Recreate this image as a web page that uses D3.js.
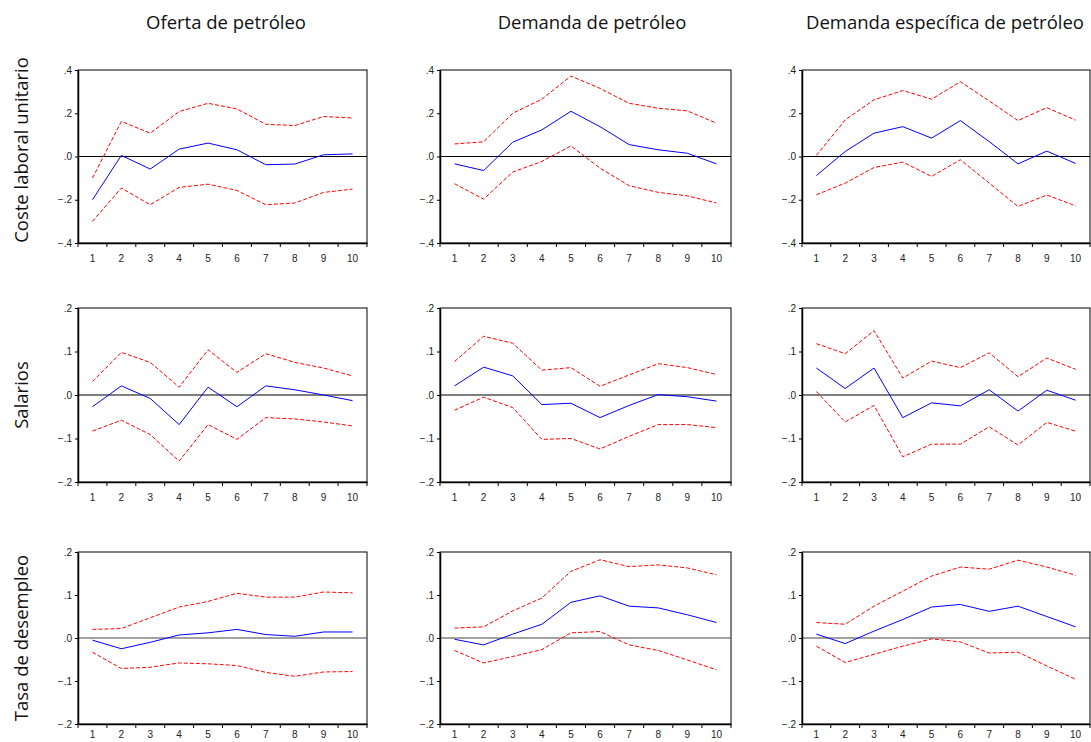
<!DOCTYPE html>
<html>
<head>
<meta charset="utf-8">
<script src="https://cdn.jsdelivr.net/npm/d3@7"></script>
<style>
  body { margin: 0; background: #fff; }
  .tick text { font-family: Arial, "Liberation Sans", sans-serif; font-size: 10px; fill: #222; }
  .title { font-family: "Open Sans", sans-serif; font-size: 18.5px; fill: #111; }
</style>
</head>
<body>
<svg width="1091" height="742"></svg>
<script>
// Column (shock) and row (response) labels
const shocks = ['Oferta de petróleo', 'Demanda de petróleo', 'Demanda específica de petróleo'];
const responses = ['Coste laboral unitario', 'Salarios', 'Tasa de desempleo'];
const periods = [1, 2, 3, 4, 5, 6, 7, 8, 9, 10];

// y-axis ticks for each row
const rowTicks = [
    [-0.4, -0.2, 0, 0.2, 0.4],
    [-0.2, -0.1, 0, 0.1, 0.2],
    [-0.2, -0.1, 0, 0.1, 0.2],
];

// Row 1: Coste laboral unitario
const costeOferta = [-0.200, 0.005, -0.058, 0.034, 0.062, 0.031, -0.038, -0.035, 0.008, 0.012];
const costeOfertaHi = [-0.100, 0.162, 0.108, 0.208, 0.246, 0.220, 0.149, 0.143, 0.185, 0.178];
const costeOfertaLo = [-0.300, -0.146, -0.223, -0.143, -0.128, -0.157, -0.223, -0.215, -0.166, -0.151];

const costeDemanda = [-0.034, -0.065, 0.066, 0.123, 0.209, 0.138, 0.055, 0.031, 0.015, -0.034];
const costeDemandaHi = [0.058, 0.068, 0.200, 0.265, 0.372, 0.315, 0.246, 0.223, 0.211, 0.154];
const costeDemandaLo = [-0.126, -0.197, -0.072, -0.023, 0.049, -0.054, -0.135, -0.166, -0.182, -0.215];

const costeEspec = [-0.088, 0.023, 0.108, 0.138, 0.085, 0.166, 0.069, -0.034, 0.025, -0.032];
const costeEspecHi = [0.005, 0.169, 0.262, 0.305, 0.265, 0.346, 0.257, 0.166, 0.226, 0.168];
const costeEspecLo = [-0.177, -0.123, -0.051, -0.026, -0.092, -0.015, -0.123, -0.231, -0.178, -0.228];

// Row 2: Salarios
const salOferta = [-0.027, 0.021, -0.008, -0.068, 0.018, -0.027, 0.021, 0.012, 0.000, -0.013];
const salOfertaHi = [0.031, 0.098, 0.075, 0.018, 0.104, 0.052, 0.095, 0.075, 0.062, 0.044];
const salOfertaLo = [-0.083, -0.058, -0.091, -0.152, -0.068, -0.102, -0.052, -0.055, -0.062, -0.071];

const salDemanda = [0.021, 0.064, 0.044, -0.022, -0.019, -0.052, -0.024, 0.001, -0.004, -0.014];
const salDemandaHi = [0.077, 0.135, 0.119, 0.057, 0.063, 0.020, 0.046, 0.072, 0.063, 0.047];
const salDemandaLo = [-0.035, -0.005, -0.029, -0.102, -0.100, -0.124, -0.095, -0.068, -0.068, -0.075];

const salEspec = [0.062, 0.015, 0.062, -0.052, -0.018, -0.025, 0.012, -0.037, 0.011, -0.012];
const salEspecHi = [0.118, 0.095, 0.148, 0.039, 0.078, 0.063, 0.097, 0.042, 0.085, 0.059];
const salEspecLo = [0.008, -0.062, -0.024, -0.142, -0.113, -0.113, -0.073, -0.115, -0.063, -0.083];

// Row 3: Tasa de desempleo
const desOferta = [-0.005, -0.025, -0.010, 0.007, 0.012, 0.020, 0.008, 0.004, 0.014, 0.014];
const desOfertaHi = [0.020, 0.022, 0.047, 0.072, 0.085, 0.104, 0.095, 0.095, 0.107, 0.105];
const desOfertaLo = [-0.033, -0.071, -0.068, -0.058, -0.060, -0.064, -0.080, -0.089, -0.079, -0.078];

const desDemanda = [-0.003, -0.016, 0.009, 0.032, 0.083, 0.098, 0.074, 0.070, 0.054, 0.036];
const desDemandaHi = [0.023, 0.026, 0.063, 0.093, 0.155, 0.182, 0.166, 0.170, 0.163, 0.147];
const desDemandaLo = [-0.029, -0.058, -0.043, -0.027, 0.012, 0.015, -0.016, -0.029, -0.051, -0.074];

const desEspec = [0.009, -0.013, 0.016, 0.043, 0.072, 0.078, 0.062, 0.074, 0.050, 0.026];
const desEspecHi = [0.036, 0.032, 0.074, 0.109, 0.144, 0.165, 0.160, 0.181, 0.165, 0.146];
const desEspecLo = [-0.019, -0.057, -0.038, -0.019, -0.002, -0.009, -0.035, -0.033, -0.065, -0.096];

const panels = [
    [[costeOferta, costeOfertaHi, costeOfertaLo], [costeDemanda, costeDemandaHi, costeDemandaLo], [costeEspec, costeEspecHi, costeEspecLo]],
    [[salOferta, salOfertaHi, salOfertaLo], [salDemanda, salDemandaHi, salDemandaLo], [salEspec, salEspecHi, salEspecLo]],
    [[desOferta, desOfertaHi, desOfertaLo], [desDemanda, desDemandaHi, desDemandaLo], [desEspec, desEspecHi, desEspecLo]],
];

// Layout
const colLeft = [78, 440, 802];
const colRight = [367, 731, 1090];
const rowTop = [70, 308, 552];
const rowBottom = [243, 482, 724];
const labelDy = [16, 16, 11];   // x tick label offset below each row
const titleX = [226, 592, 945];
const labelY = [150, 395, 638];

const svg = d3.select('svg');
const fmt = d => d === 0 ? '.0' : d3.format('.1f')(d).replace('0.', '.');

shocks.forEach((s, c) => {
    svg.append('text')
        .attr('class', 'title')
        .attr('x', titleX[c])
        .attr('y', 29)
        .attr('text-anchor', 'middle')
        .text(s);
});

responses.forEach((r, i) => {
    svg.append('text')
        .attr('class', 'title')
        .attr('transform', `translate(28, ${labelY[i]}) rotate(-90)`)
        .attr('text-anchor', 'middle')
        .text(r);
});

panels.forEach((row, i) => {
    row.forEach((series, c) => {
        const x0 = colLeft[c], x1 = colRight[c];
        const y0 = rowTop[i], y1 = rowBottom[i];
        const g = svg.append('g');

        // band scale for the axis ticks (boundaries), points at centre
        const xb = d3.scaleBand().domain(periods).range([x0, x1]);
        const x = p => xb(p) + xb.bandwidth() / 2;
        const t = rowTicks[i];
        const y = d3.scaleLinear().domain([t[0], t[t.length - 1]]).range([y1, y0]);

        // frame
        g.append('rect')
            .attr('x', x0).attr('y', y0)
            .attr('width', x1 - x0).attr('height', y1 - y0)
            .attr('fill', 'none').attr('stroke', '#000').attr('stroke-width', 1);

        // zero line
        g.append('line')
            .attr('x1', x0).attr('x2', x1)
            .attr('y1', y(0)).attr('y2', y(0))
            .attr('stroke', i === 2 ? '#444' : '#000').attr('stroke-width', 1.2);

        // axes
        const yAxis = d3.axisLeft(y).tickValues(t).tickFormat(fmt).tickSize(3).tickSizeOuter(0);
        g.append('g').attr('transform', `translate(${x0},0)`).call(yAxis)
            .call(a => a.select('.domain').attr('stroke-width', 1.5));

        const xAxis = d3.axisBottom(xb).tickSize(0).tickSizeOuter(0);
        const xa = g.append('g').attr('transform', `translate(0,${y1})`).call(xAxis);
        xa.select('.domain').attr('stroke-width', 1.5);
        xa.selectAll('.tick text').attr('dy', labelDy[i]);
        // boundary tick marks
        xa.selectAll('line.bound')
            .data(d3.range(periods.length + 1))
            .join('line')
            .attr('class', 'bound')
            .attr('x1', k => x0 + k * xb.step())
            .attr('x2', k => x0 + k * xb.step())
            .attr('y1', 0).attr('y2', 4)
            .attr('stroke', '#000');

        const line = d3.line().x((d, k) => x(periods[k])).y(d => y(d));

        const [mid, hi, lo] = series;
        [hi, lo].forEach(b => {
            g.append('path')
                .attr('d', line(b))
                .attr('fill', 'none')
                .attr('stroke', '#ff0000')
                .attr('stroke-width', 1)
                .attr('stroke-dasharray', '4,2');
        });
        g.append('path')
            .attr('d', line(mid))
            .attr('fill', 'none')
            .attr('stroke', '#0000ff')
            .attr('stroke-width', 1);
    });
});
</script>
</body>
</html>
